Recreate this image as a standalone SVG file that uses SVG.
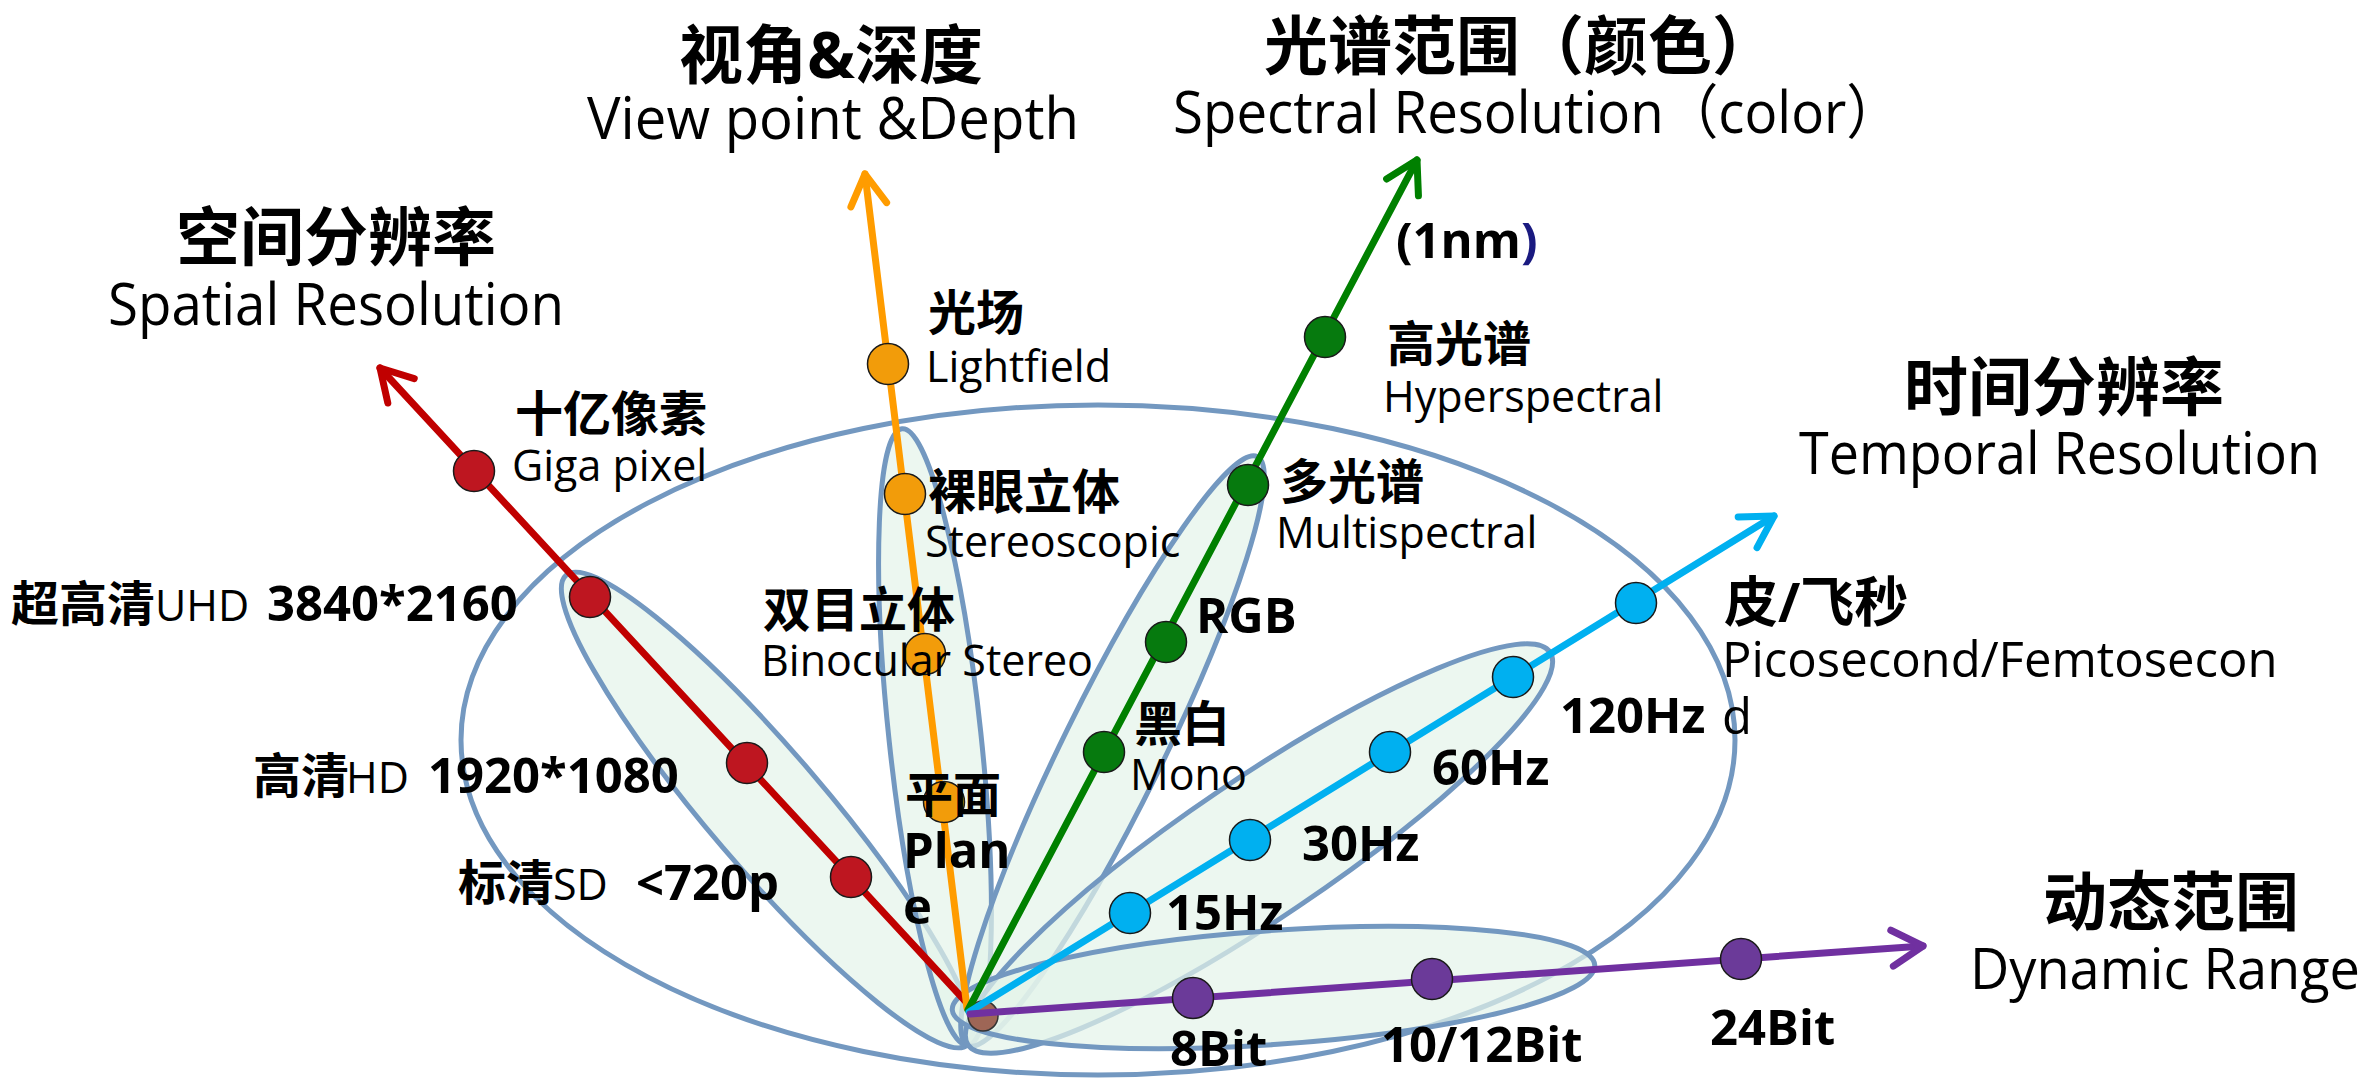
<svg xmlns="http://www.w3.org/2000/svg" width="2374" height="1079" viewBox="0 0 2374 1079">
<style>
text{font-family:"Open Sans","Noto Sans CJK SC",sans-serif;fill:#000}
.ct{font-size:64px;font-weight:700}
.et{font-size:59px;font-weight:400}
.cj{font-size:48px;font-weight:700}
.en{font-size:43px;font-weight:400}
.nm{font-size:49px;font-weight:700}
.grp{fill:#e4f3ea;fill-opacity:0.7;stroke:#7398c0;stroke-width:5}
.big{fill:none;stroke:#7398c0;stroke-width:5}
.ax{stroke-width:7;fill:none;stroke-linecap:round}
.dot{stroke:#1a1a1a;stroke-width:1.5}
</style>
<defs>
<marker id="aR" markerUnits="userSpaceOnUse" markerWidth="80" markerHeight="80" viewBox="-40 -40 80 80" refX="0" refY="0" orient="auto" overflow="visible"><path d="M-31,-18 L0,0 L-31,18" fill="none" stroke="#c00000" stroke-width="7" stroke-linecap="round" stroke-linejoin="round"/></marker>
<marker id="aO" markerUnits="userSpaceOnUse" markerWidth="80" markerHeight="80" viewBox="-40 -40 80 80" refX="0" refY="0" orient="auto" overflow="visible"><path d="M-31,-18 L0,0 L-31,18" fill="none" stroke="#ff9c00" stroke-width="7" stroke-linecap="round" stroke-linejoin="round"/></marker>
<marker id="aG" markerUnits="userSpaceOnUse" markerWidth="80" markerHeight="80" viewBox="-40 -40 80 80" refX="0" refY="0" orient="auto" overflow="visible"><path d="M-31,-18 L0,0 L-31,18" fill="none" stroke="#008000" stroke-width="7" stroke-linecap="round" stroke-linejoin="round"/></marker>
<marker id="aC" markerUnits="userSpaceOnUse" markerWidth="80" markerHeight="80" viewBox="-40 -40 80 80" refX="0" refY="0" orient="auto" overflow="visible"><path d="M-31,-18 L0,0 L-31,18" fill="none" stroke="#00b0f0" stroke-width="7" stroke-linecap="round" stroke-linejoin="round"/></marker>
<marker id="aP" markerUnits="userSpaceOnUse" markerWidth="80" markerHeight="80" viewBox="-40 -40 80 80" refX="0" refY="0" orient="auto" overflow="visible"><path d="M-31,-18 L0,0 L-31,18" fill="none" stroke="#7030a0" stroke-width="7" stroke-linecap="round" stroke-linejoin="round"/></marker>
</defs>
<rect width="2374" height="1079" fill="#fff"/>

<g id="groups">
<ellipse id="big-ellipse" class="big" cx="1098" cy="740" rx="637" ry="335"/>
<ellipse id="spatial-group" class="grp" cx="767" cy="810" rx="309" ry="58" transform="rotate(49.46 767 810)"/>
<ellipse id="view-group" class="grp" cx="935" cy="737" rx="310" ry="46" transform="rotate(83.9 935 737)"/>
<ellipse id="spectral-group" class="grp" cx="1112.5" cy="751" rx="328" ry="50" transform="rotate(116.2 1112.5 751)"/>
<ellipse id="temporal-group" class="grp" cx="1259" cy="848.5" rx="351" ry="70" transform="rotate(-34 1259 848.5)"/>
<ellipse id="dynamic-group" class="grp" cx="1273.5" cy="987.5" rx="322" ry="57" transform="rotate(-4 1273.5 987.5)"/>
</g>

<circle id="origin-dot" cx="983" cy="1016" r="15" fill="#9e6656" stroke="#333" stroke-width="1.5"/>

<g id="connectors">
<line class="ax" x1="968" y1="1004" x2="380" y2="368" stroke="#c00000" marker-end="url(#aR)"/>
<line class="ax" x1="967" y1="1008" x2="865" y2="174" stroke="#ff9c00" marker-end="url(#aO)"/>
<line class="ax" x1="968" y1="1010" x2="1417" y2="160" stroke="#008000" marker-end="url(#aG)"/>
<line class="ax" x1="969" y1="1012" x2="1774" y2="516" stroke="#00b0f0" marker-end="url(#aC)"/>
<line class="ax" x1="970" y1="1014" x2="1923" y2="946" stroke="#7030a0" marker-end="url(#aP)"/>
</g>

<g id="spatial">
<g id="n-giga"><circle class="dot" cx="474" cy="471" r="20.5" fill="#be1620"/><text class="cj" x="515" y="431">十亿像素</text><text class="en" x="512" y="481">Giga pixel</text></g>
<g id="n-uhd"><circle class="dot" cx="590" cy="597" r="20.5" fill="#be1620"/><text y="621"><tspan class="cj" x="11">超高清</tspan><tspan class="en" x="155">UHD</tspan><tspan class="nm" x="267">3840*2160</tspan></text></g>
<g id="n-hd"><circle class="dot" cx="747" cy="763" r="20.5" fill="#be1620"/><text y="793"><tspan class="cj" x="253">高清</tspan><tspan class="en" x="346">HD</tspan><tspan class="nm" x="428">1920*1080</tspan></text></g>
<g id="n-sd"><circle class="dot" cx="851" cy="877" r="20.5" fill="#be1620"/><text y="900"><tspan class="cj" x="458">标清</tspan><tspan class="en" x="553">SD</tspan><tspan class="nm" x="636">&lt;720p</tspan></text></g>
<g id="t-spatial"><text class="ct" x="176" y="260">空间分辨率</text><text class="et" x="108" y="325" textLength="456" lengthAdjust="spacingAndGlyphs">Spatial Resolution</text></g>
</g>

<g id="view">
<g id="n-lightfield"><circle class="dot" cx="888" cy="364" r="20.5" fill="#f29c0a"/><text class="cj" x="928" y="330">光场</text><text class="en" x="926" y="382">Lightfield</text></g>
<g id="n-stereoscopic"><circle class="dot" cx="905" cy="494" r="20.5" fill="#f29c0a"/><text class="cj" x="928" y="509">裸眼立体</text><text class="en" x="925" y="557">Stereoscopic</text></g>
<g id="n-binocular"><circle class="dot" cx="925" cy="654" r="20.5" fill="#f29c0a"/><text class="cj" x="763" y="627">双目立体</text><text class="en" x="761" y="676">Binocular Stereo</text></g>
<g id="n-plane"><circle class="dot" cx="944" cy="802" r="20.5" fill="#f29c0a"/><text class="cj" x="905" y="812">平面</text><text class="nm" x="903" y="868">Plan</text><text class="nm" x="903" y="924">e</text></g>
<g id="t-view"><text class="ct" x="679" y="78">视角&amp;深度</text><text class="et" x="587" y="139" textLength="492" lengthAdjust="spacingAndGlyphs">View point &amp;Depth</text></g>
</g>

<g id="spectral">
<text class="nm" x="1396" y="258">(1nm<tspan fill="#1a1a80">)</tspan></text>
<g id="n-hyper"><circle class="dot" cx="1325" cy="337" r="20.5" fill="#067a0e"/><text class="cj" x="1387" y="361">高光谱</text><text class="en" x="1383" y="412">Hyperspectral</text></g>
<g id="n-multi"><circle class="dot" cx="1248" cy="485" r="20.5" fill="#067a0e"/><text class="cj" x="1280" y="499">多光谱</text><text class="en" x="1276" y="548">Multispectral</text></g>
<g id="n-rgb"><circle class="dot" cx="1166" cy="642" r="20.5" fill="#067a0e"/><text class="nm" x="1196" y="633">RGB</text></g>
<g id="n-mono"><circle class="dot" cx="1104" cy="752" r="20.5" fill="#067a0e"/><text class="cj" x="1134" y="741">黑白</text><text class="en" x="1130" y="790">Mono</text></g>
<g id="t-spectral"><text class="ct" x="1264" y="69">光谱范围（颜色）</text><text class="et" x="1173" y="133" textLength="728" lengthAdjust="spacingAndGlyphs">Spectral Resolution（color）</text></g>
</g>

<g id="temporal">
<g id="n-15"><circle class="dot" cx="1130" cy="913" r="20.5" fill="#00b0f0"/><text class="nm" x="1166" y="930">15Hz</text></g>
<g id="n-30"><circle class="dot" cx="1250" cy="840" r="20.5" fill="#00b0f0"/><text class="nm" x="1302" y="861">30Hz</text></g>
<g id="n-60"><circle class="dot" cx="1390" cy="752" r="20.5" fill="#00b0f0"/><text class="nm" x="1432" y="785">60Hz</text></g>
<g id="n-120"><circle class="dot" cx="1513" cy="677" r="20.5" fill="#00b0f0"/><text class="nm" x="1560" y="733">120Hz</text></g>
<g id="n-pico"><circle class="dot" cx="1636" cy="603" r="20.5" fill="#00b0f0"/><text class="cj" x="1724" y="622" style="font-size:54px">皮/飞秒</text><text class="en" x="1722" y="677" style="font-size:49px">Picosecond/Femtosecon</text><text class="en" x="1722" y="734" style="font-size:49px">d</text></g>
<g id="t-temporal"><text class="ct" x="1904" y="410">时间分辨率</text><text class="et" x="1799" y="474" textLength="521" lengthAdjust="spacingAndGlyphs">Temporal Resolution</text></g>
</g>

<g id="dynamic">
<g id="n-8bit"><circle class="dot" cx="1193" cy="998" r="20.5" fill="#6b3a99"/><text class="nm" x="1170" y="1066">8Bit</text></g>
<g id="n-10bit"><circle class="dot" cx="1432" cy="979" r="20.5" fill="#6b3a99"/><text class="nm" x="1381" y="1062">10/12Bit</text></g>
<g id="n-24bit"><circle class="dot" cx="1741" cy="959" r="20.5" fill="#6b3a99"/><text class="nm" x="1710" y="1045">24Bit</text></g>
<g id="t-dynamic"><text class="ct" x="2043" y="925">动态范围</text><text class="et" x="1970" y="989" style="font-size:56px" textLength="390" lengthAdjust="spacingAndGlyphs">Dynamic Range</text></g>
</g>
</svg>
